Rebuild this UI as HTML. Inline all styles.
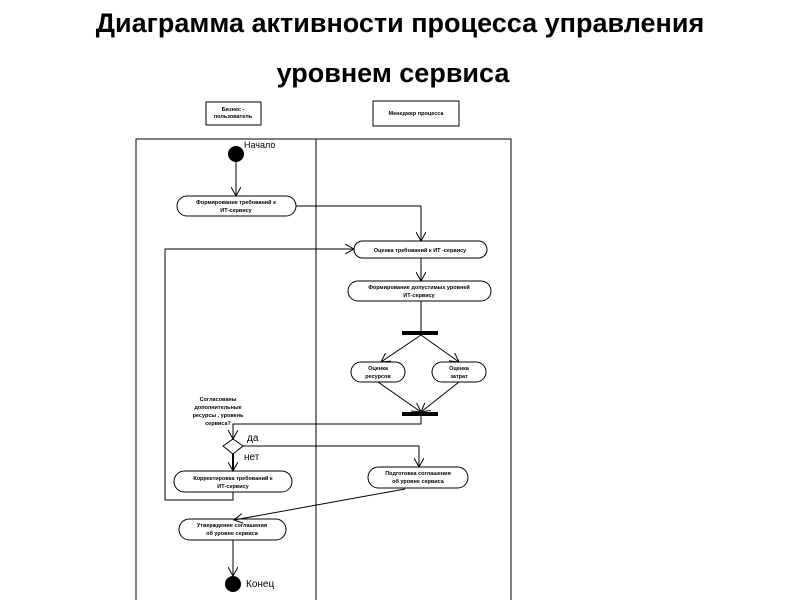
<!DOCTYPE html>
<html><head><meta charset="utf-8"><style>
html,body{margin:0;padding:0;background:#fff;}
svg{display:block;}
</style></head><body>
<svg width="800" height="600" viewBox="0 0 800 600" xmlns="http://www.w3.org/2000/svg" font-family="Liberation Sans, sans-serif">
<defs>
<marker id="a" markerWidth="10" markerHeight="10" refX="9" refY="5" orient="auto" markerUnits="userSpaceOnUse">
<path d="M0,0 L9,5 L0,10" fill="none" stroke="#000" stroke-width="1"/>
</marker>
</defs>
<text x="400" y="32" font-size="27" font-weight="bold" text-anchor="middle">Диаграмма активности процесса управления</text>
<text x="393" y="82" font-size="27" font-weight="bold" text-anchor="middle">уровнем сервиса</text>
<g fill="none" stroke="#000" stroke-width="1">
<rect x="206" y="102" width="55" height="23"/>
<rect x="373" y="101" width="86" height="25"/>
<path d="M136,600 V139 H511 V600"/>
<line x1="316" y1="139" x2="316" y2="600"/>
</g>
<g font-size="5.5" font-weight="bold" text-anchor="middle">
<text x="233" y="111">Бизнес -</text><text x="233" y="118">пользователь</text>
<text x="416" y="115">Менеджер процесса</text>
</g>
<circle cx="236" cy="154" r="8" fill="#000"/>
<text x="244" y="148" font-size="9">Начало</text>
<g fill="none" stroke="#000" stroke-width="1">
<line x1="236" y1="162" x2="236" y2="196" marker-end="url(#a)"/>
<rect x="177" y="196" width="119" height="20" rx="10"/>
<polyline points="296,206 421,206 421,241" marker-end="url(#a)"/>
<rect x="354" y="241" width="133" height="17" rx="8.5"/>
<line x1="421" y1="258" x2="421" y2="281" marker-end="url(#a)"/>
<rect x="348" y="281" width="143" height="20" rx="10"/>
<line x1="421" y1="301" x2="421" y2="331"/>
<line x1="421" y1="335" x2="381" y2="362" marker-end="url(#a)"/>
<line x1="421" y1="335" x2="459" y2="362" marker-end="url(#a)"/>
<rect x="351" y="362" width="54" height="20" rx="10"/>
<rect x="432" y="362" width="54" height="20" rx="10"/>
<line x1="378" y1="382" x2="421" y2="412" marker-end="url(#a)"/>
<line x1="459" y1="382" x2="421" y2="412" marker-end="url(#a)"/>
<polyline points="421,416 421,424 233,424 233,439" marker-end="url(#a)"/>
<polygon points="233,439 243,446 233,454 223,446"/>
<polyline points="243,446 419,446 419,467" marker-end="url(#a)"/>
<line x1="233" y1="454" x2="233" y2="471" stroke-width="2" marker-end="url(#a)"/>
<rect x="174" y="471" width="118" height="21" rx="10.5"/>
<polyline points="233,492 233,500 165,500 165,249 354,249" marker-end="url(#a)"/>
<rect x="368" y="467" width="100" height="21" rx="10.5"/>
<line x1="405" y1="489" x2="234" y2="520" marker-end="url(#a)"/>
<rect x="179" y="519" width="107" height="21" rx="10.5"/>
<line x1="233" y1="540" x2="233" y2="576" marker-end="url(#a)"/>
</g>
<rect x="402" y="331" width="36" height="4" fill="#000"/>
<rect x="402" y="412" width="36" height="4" fill="#000"/>
<circle cx="233" cy="584" r="8" fill="#000"/>
<text x="246" y="587" font-size="10">Конец</text>
<text x="247" y="441" font-size="10">да</text>
<text x="244" y="460" font-size="10">нет</text>
<g font-size="5.5" font-weight="bold" text-anchor="middle">
<text x="236" y="204">Формирование требований к</text><text x="236" y="212">ИТ-сервису</text>
<text x="420" y="252">Оценка требований к ИТ -сервису</text>
<text x="419" y="289">Формирование допустимых уровней</text><text x="419" y="297">ИТ-сервису</text>
<text x="378" y="370">Оценка</text><text x="378" y="378">ресурсов</text>
<text x="459" y="370">Оценка</text><text x="459" y="378">затрат</text>
<text x="218" y="401">Согласованы</text><text x="218" y="409">дополнительные</text><text x="218" y="417">ресурсы , уровень</text><text x="218" y="425">сервиса?</text>
<text x="233" y="480">Корректировка требований к</text><text x="233" y="488">ИТ-сервису</text>
<text x="418" y="475">Подготовка соглашения</text><text x="418" y="483">об уровне сервиса</text>
<text x="232" y="527">Утверждение соглашения</text><text x="232" y="535">об уровне сервиса</text>
</g>
</svg>
</body></html>
